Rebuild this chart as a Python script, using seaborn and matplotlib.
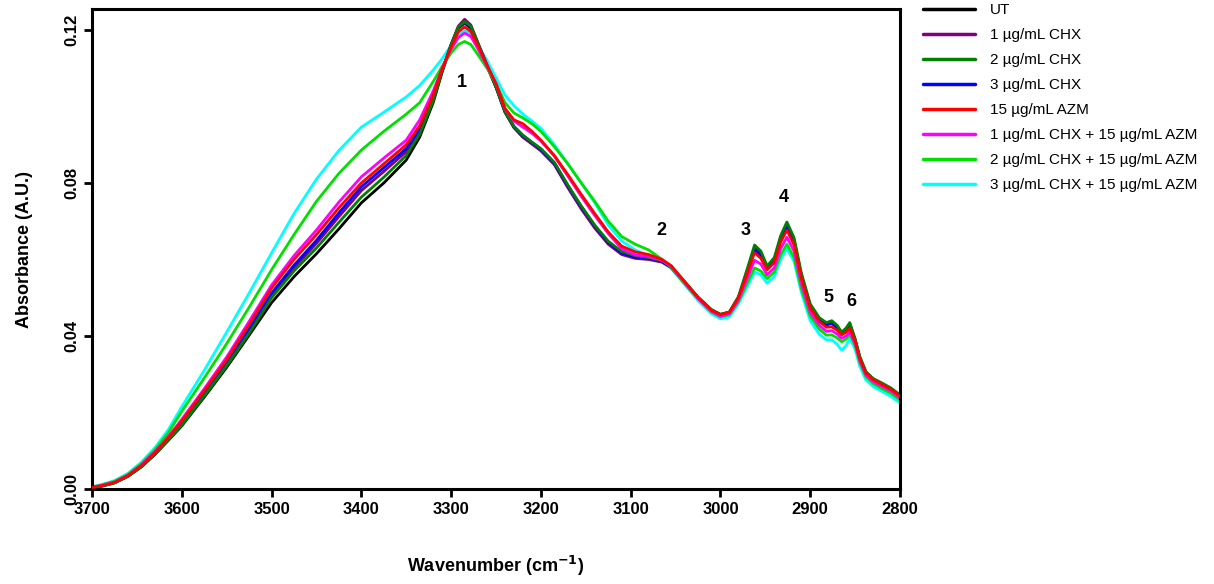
import numpy as np
import pandas as pd
import matplotlib
matplotlib.use("Agg")
import matplotlib.pyplot as plt
import seaborn as sns

wavenumber = [3700, 3690, 3675, 3660, 3645, 3630, 3615, 3600, 3575, 3550, 3525, 3500, 3475, 3450, 3425,
              3400, 3375, 3350, 3335, 3320, 3310, 3300, 3292, 3285, 3278, 3270, 3260, 3250, 3240, 3230,
              3220, 3210, 3200, 3185, 3170, 3155, 3140, 3125, 3110, 3095, 3080, 3065, 3055, 3040, 3025,
              3010, 3000, 2990, 2980, 2970, 2962, 2955, 2948, 2940, 2933, 2926, 2918, 2910, 2900, 2890,
              2882, 2876, 2870, 2865, 2860, 2856, 2850, 2845, 2838, 2830, 2820, 2810, 2800]

ut = [0.0003, 0.0007, 0.0016, 0.0033, 0.0058, 0.0090, 0.0127, 0.0165, 0.0240, 0.0318, 0.0402, 0.0487, 0.0555, 0.0615, 0.0680,
      0.0748, 0.0800, 0.0860, 0.0920, 0.1010, 0.1090, 0.1160, 0.1205, 0.1218, 0.1205, 0.1160, 0.1105, 0.1050, 0.0985, 0.0945,
      0.0920, 0.0903, 0.0886, 0.0850, 0.0790, 0.0735, 0.0685, 0.0643, 0.0617, 0.0607, 0.0603, 0.0595, 0.0580, 0.0540, 0.0500,
      0.0468, 0.0456, 0.0462, 0.0500, 0.0570, 0.0630, 0.0615, 0.0580, 0.0600, 0.0655, 0.0692, 0.0650, 0.0560, 0.0480, 0.0445,
      0.0432, 0.0437, 0.0425, 0.0408, 0.0418, 0.0432, 0.0390, 0.0345, 0.0305, 0.0287, 0.0275, 0.0262, 0.0245]

chx1 = [0.0003, 0.0008, 0.0017, 0.0034, 0.0059, 0.0092, 0.0130, 0.0170, 0.0247, 0.0326, 0.0413, 0.0507, 0.0578, 0.0642, 0.0712,
        0.0780, 0.0830, 0.0882, 0.0935, 0.1020, 0.1095, 0.1162, 0.1210, 0.1228, 0.1213, 0.1166, 0.1108, 0.1052, 0.0986, 0.0945,
        0.0920, 0.0902, 0.0884, 0.0848, 0.0788, 0.0732, 0.0682, 0.0640, 0.0613, 0.0603, 0.0600, 0.0593, 0.0579, 0.0540, 0.0500,
        0.0468, 0.0456, 0.0462, 0.0500, 0.0568, 0.0627, 0.0612, 0.0578, 0.0598, 0.0652, 0.0689, 0.0648, 0.0558, 0.0478, 0.0443,
        0.0430, 0.0435, 0.0423, 0.0406, 0.0416, 0.0430, 0.0389, 0.0344, 0.0304, 0.0286, 0.0274, 0.0261, 0.0244]

chx2 = [0.0003, 0.0007, 0.0016, 0.0033, 0.0058, 0.0091, 0.0128, 0.0167, 0.0243, 0.0322, 0.0407, 0.0500, 0.0570, 0.0630, 0.0697,
        0.0763, 0.0815, 0.0872, 0.0928, 0.1015, 0.1092, 0.1162, 0.1208, 0.1222, 0.1210, 0.1164, 0.1107, 0.1051, 0.0987, 0.0948,
        0.0925, 0.0907, 0.0890, 0.0854, 0.0795, 0.0740, 0.0690, 0.0648, 0.0621, 0.0610, 0.0605, 0.0597, 0.0583, 0.0543, 0.0502,
        0.0469, 0.0457, 0.0463, 0.0503, 0.0577, 0.0638, 0.0622, 0.0583, 0.0605, 0.0662, 0.0698, 0.0657, 0.0566, 0.0484, 0.0448,
        0.0435, 0.0440, 0.0428, 0.0410, 0.0421, 0.0435, 0.0393, 0.0348, 0.0307, 0.0289, 0.0277, 0.0264, 0.0246]

chx3 = [0.0003, 0.0008, 0.0017, 0.0034, 0.0060, 0.0093, 0.0131, 0.0173, 0.0250, 0.0330, 0.0420, 0.0512, 0.0585, 0.0650, 0.0722,
        0.0790, 0.0840, 0.0890, 0.0940, 0.1022, 0.1095, 0.1160, 0.1205, 0.1220, 0.1208, 0.1163, 0.1107, 0.1052, 0.0988, 0.0948,
        0.0924, 0.0906, 0.0888, 0.0852, 0.0793, 0.0738, 0.0688, 0.0645, 0.0617, 0.0606, 0.0603, 0.0595, 0.0580, 0.0540, 0.0500,
        0.0467, 0.0455, 0.0461, 0.0498, 0.0567, 0.0625, 0.0610, 0.0577, 0.0597, 0.0650, 0.0686, 0.0646, 0.0557, 0.0477, 0.0442,
        0.0429, 0.0433, 0.0421, 0.0405, 0.0415, 0.0428, 0.0388, 0.0343, 0.0304, 0.0286, 0.0274, 0.0261, 0.0244]

azm15 = [0.0004, 0.0008, 0.0017, 0.0035, 0.0061, 0.0095, 0.0134, 0.0178, 0.0257, 0.0338, 0.0430, 0.0525, 0.0600, 0.0665, 0.0735,
         0.0800, 0.0850, 0.0900, 0.0950, 0.1030, 0.1098, 0.1155, 0.1195, 0.1208, 0.1196, 0.1158, 0.1108, 0.1060, 0.0995, 0.0965,
         0.0955, 0.0935, 0.0912, 0.0872, 0.0822, 0.0770, 0.0720, 0.0672, 0.0635, 0.0620, 0.0613, 0.0600, 0.0584, 0.0542, 0.0501,
         0.0467, 0.0456, 0.0462, 0.0500, 0.0565, 0.0618, 0.0603, 0.0573, 0.0592, 0.0645, 0.0677, 0.0638, 0.0552, 0.0473, 0.0438,
         0.0423, 0.0424, 0.0415, 0.0403, 0.0410, 0.0420, 0.0387, 0.0342, 0.0303, 0.0286, 0.0273, 0.0260, 0.0243]

chx1_azm = [0.0004, 0.0009, 0.0018, 0.0036, 0.0063, 0.0097, 0.0137, 0.0182, 0.0262, 0.0345, 0.0438, 0.0533, 0.0610, 0.0677, 0.0750,
            0.0816, 0.0865, 0.0912, 0.0965, 0.1040, 0.1100, 0.1150, 0.1180, 0.1192, 0.1183, 0.1150, 0.1105, 0.1060, 0.0995, 0.0962,
            0.0946, 0.0930, 0.0910, 0.0870, 0.0818, 0.0765, 0.0715, 0.0668, 0.0628, 0.0612, 0.0608, 0.0598, 0.0582, 0.0540, 0.0498,
            0.0464, 0.0452, 0.0458, 0.0494, 0.0552, 0.0598, 0.0588, 0.0560, 0.0578, 0.0628, 0.0658, 0.0622, 0.0538, 0.0462, 0.0428,
            0.0412, 0.0414, 0.0405, 0.0394, 0.0400, 0.0410, 0.0380, 0.0337, 0.0298, 0.0281, 0.0268, 0.0256, 0.0238]

chx2_azm = [0.0005, 0.0010, 0.0020, 0.0038, 0.0066, 0.0102, 0.0147, 0.0203, 0.0290, 0.0380, 0.0475, 0.0573, 0.0665, 0.0752, 0.0825,
            0.0886, 0.0935, 0.0980, 0.1010, 0.1065, 0.1105, 0.1140, 0.1162, 0.1170, 0.1162, 0.1135, 0.1100, 0.1060, 0.1010, 0.0983,
            0.0970, 0.0955, 0.0935, 0.0895, 0.0850, 0.0800, 0.0752, 0.0700, 0.0660, 0.0640, 0.0625, 0.0600, 0.0580, 0.0537, 0.0497,
            0.0463, 0.0450, 0.0456, 0.0490, 0.0540, 0.0578, 0.0570, 0.0550, 0.0567, 0.0612, 0.0640, 0.0605, 0.0525, 0.0452, 0.0418,
            0.0402, 0.0403, 0.0395, 0.0385, 0.0392, 0.0405, 0.0375, 0.0332, 0.0294, 0.0276, 0.0262, 0.0250, 0.0233]

chx3_azm = [0.0006, 0.0011, 0.0022, 0.0041, 0.0070, 0.0108, 0.0155, 0.0215, 0.0310, 0.0410, 0.0512, 0.0617, 0.0720, 0.0810, 0.0885,
            0.0946, 0.0985, 0.1025, 0.1055, 0.1095, 0.1125, 0.1160, 0.1188, 0.1198, 0.1190, 0.1160, 0.1120, 0.1075, 0.1030, 0.1002,
            0.0980, 0.0962, 0.0943, 0.0900, 0.0850, 0.0800, 0.0748, 0.0690, 0.0648, 0.0625, 0.0610, 0.0593, 0.0577, 0.0535, 0.0493,
            0.0458, 0.0445, 0.0450, 0.0484, 0.0530, 0.0567, 0.0560, 0.0538, 0.0555, 0.0600, 0.0628, 0.0595, 0.0515, 0.0440, 0.0405,
            0.0390, 0.0390, 0.0378, 0.0363, 0.0375, 0.0395, 0.0365, 0.0322, 0.0285, 0.0268, 0.0255, 0.0242, 0.0225]

labels = ["UT", "1 µg/mL CHX", "2 µg/mL CHX", "3 µg/mL CHX", "15 µg/mL AZM",
          "1 µg/mL CHX + 15 µg/mL AZM", "2 µg/mL CHX + 15 µg/mL AZM", "3 µg/mL CHX + 15 µg/mL AZM"]
colors = ["#000000", "#800080", "#008000", "#0000FF", "#FF0000", "#FF00FF", "#00E000", "#00FFFF"]
series = [ut, chx1, chx2, chx3, azm15, chx1_azm, chx2_azm, chx3_azm]

peak_labels = ["1", "2", "3", "4", "5", "6"]
peak_x = [3288, 3066, 2972, 2930, 2880, 2854]
peak_y = [0.1064, 0.0677, 0.0677, 0.0763, 0.0500, 0.0489]

frames = []
for lab, vals in zip(labels, series):
    frames.append(pd.DataFrame({"Wavenumber": wavenumber, "Absorbance": vals, "Sample": lab}))
df = pd.concat(frames, ignore_index=True)

sns.set_theme(style="ticks")
plt.rcParams["font.family"] = ["Liberation Sans", "DejaVu Sans"]
plt.rcParams["text.color"] = "black"
plt.rcParams["axes.labelcolor"] = "black"
plt.rcParams["xtick.color"] = "black"
plt.rcParams["ytick.color"] = "black"

fig = plt.figure(figsize=(12.14, 5.84), dpi=100)
ax = fig.add_axes([92 / 1214, 1 - 489 / 584, (900 - 92) / 1214, (489 - 9) / 584])

sns.lineplot(data=df, x="Wavenumber", y="Absorbance", hue="Sample", hue_order=labels,
             palette=colors, sort=False, estimator=None, linewidth=2.0, ax=ax, legend=False)

zorders = [2.0, 2.1, 2.3, 2.2, 2.6, 2.5, 2.4, 2.05]
for line, z in zip(ax.lines, zorders):
    line.set_zorder(z)

ax.set_xlim(3700, 2800)
ax.set_ylim(0, (489 - 9) / 3825)
ax.set_xticks([3700, 3600, 3500, 3400, 3300, 3200, 3100, 3000, 2900, 2800])
ax.set_yticks([0.0, 0.04, 0.08, 0.12])
ax.set_yticklabels(["0.00", "0.04", "0.08", "0.12"], rotation=90, va="center")
for lbl in ax.get_xticklabels() + ax.get_yticklabels():
    lbl.set_fontweight("bold")
    lbl.set_fontsize(12)
    lbl.set_color("black")
ax.tick_params(axis="both", direction="out", length=6, width=2, pad=3, colors="black")

for side in ["left", "bottom", "top", "right"]:
    ax.spines[side].set_linewidth(2.2)
    ax.spines[side].set_color("black")

ax.set_xlabel("Wavenumber (cm$^{\\mathbf{-1}}$)", fontsize=13, fontweight="bold", labelpad=27, color="black")
ax.set_ylabel("Absorbance (A.U.)", fontsize=13, fontweight="bold", labelpad=23, color="black")

for t, x, y in zip(peak_labels, peak_x, peak_y):
    ax.text(x, y, t, fontsize=13, fontweight="bold", ha="center", va="center", color="black")

handles = [plt.Line2D([0], [0], color=c, lw=2.5) for c in colors]
leg = fig.legend(handles, labels, loc="upper left", bbox_to_anchor=(923 / 1214, 1 - 3 / 584),
                 frameon=False, fontsize=11, handlelength=3.4, handletextpad=1.0,
                 labelspacing=0.72, borderpad=0, borderaxespad=0)
for txt in leg.get_texts():
    txt.set_color("black")

fig.savefig("out.png", dpi=100)
